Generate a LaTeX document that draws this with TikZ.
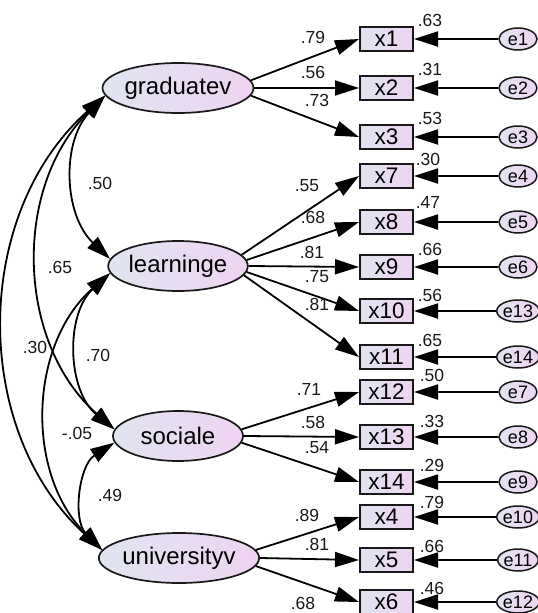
\documentclass[tikz,border=0pt]{standalone}
\usepackage{fontspec}
\setmainfont{Liberation Sans}
\usetikzlibrary{arrows.meta,shapes.geometric}
\definecolor{fillL}{RGB}{224,228,240}
\definecolor{fillR}{RGB}{238,212,242}
\definecolor{edge}{RGB}{25,25,25}
\begin{document}
\begin{tikzpicture}[x=1pt,y=-1pt,
  >={Triangle[length=24pt,width=15pt]},
  latent/.style={ellipse, draw=edge, line width=1.7pt, minimum width=130pt, minimum height=50pt, inner sep=0pt, left color=fillL, right color=fillR, font=\fontsize{24}{26}\selectfont},
  obs/.style={rectangle, draw=edge, line width=2pt, minimum width=53pt, minimum height=24pt, inner sep=0pt, left color=fillL, right color=fillR, font=\fontsize{22.5}{24}\selectfont},
  err/.style={ellipse, draw=edge, line width=1.5pt, minimum width=38pt, minimum height=22pt, inner sep=0pt, left color=fillL, right color=fillR, font=\fontsize{18}{19}\selectfont},
  num/.style={inner sep=0pt, font=\fontsize{17.5}{19}\selectfont, text=edge},
  conn/.style={line width=1.8pt, ->},
  corr/.style={line width=1.8pt, <->},
]
\useasboundingbox (0,0) rectangle (538,613);

% latent variables
\node[latent] (g) at (178,88) {graduatev};
\node[latent] (l) at (178,266) {learninge};
\node[latent] (s) at (178,436) {sociale};
\node[latent] (u) at (179,558) {universityv};

% observed variables
\foreach \n/\yy in {x1/39,x2/88,x3/137,x7/176,x8/222,x9/267,x10/311,x11/357,x12/392,x13/437,x14/482,x4/517,x5/560,x6/602}{
  \node[obs] (\n) at (386.5,\yy) {\n};
}
% errors
\foreach \e/\yy in {e1/39,e2/88,e3/137,e4/176,e5/222,e6/267,e13/311,e14/357,e7/392,e8/437,e9/482,e10/517,e11/560,e12/602}{
  \node[err] (\e) at (518,\yy) {\e};
}
\foreach \e/\n in {e1/x1,e2/x2,e3/x3,e4/x7,e5/x8,e6/x9,e13/x10,e14/x11,e7/x12,e8/x13,e9/x14,e10/x4,e11/x5,e12/x6}{
  \draw[conn] (\e) -- (\n);
}

% loadings
\draw[conn] (g.6) -- (x1.west);
\draw[conn] (g.0) -- (x2.west);
\draw[conn] (g.-6) -- (x3.west);
\draw[conn] (l.10) -- (x7.west);
\draw[conn] (l.5) -- (x8.west);
\draw[conn] (l.0) -- (x9.west);
\draw[conn] (l.-5) -- (x10.west);
\draw[conn] (l.-8) -- (x11.west);
\draw[conn] (s.6) -- (x12.west);
\draw[conn] (s.0) -- (x13.west);
\draw[conn] (s.-6) -- (x14.west);
\draw[conn] (u.6) -- (x4.west);
\draw[conn] (u.0) -- (x5.west);
\draw[conn] (u.-6) -- (x6.west);

% correlations
\draw[corr] (g.186) to[bend right=45] (l.174);
\draw[corr] (g.186) to[bend right=47] (s.174);
\draw[corr] (g.186) to[bend right=48] (u.174);
\draw[corr] (l.186) to[bend right=49] (s.174);
\draw[corr] (l.186) to[bend right=47] (u.174);
\draw[corr] (s.186) to[bend right=51] (u.174);

% loading labels
\node[num] (lx1) at (313,37) {.79};
\node[num] (lx2) at (313,72) {.56};
\node[num] (lx3) at (317,100) {.73};
\node[num] (lx7) at (307,186) {.55};
\node[num] (lx8) at (313,217) {.68};
\node[num] (lx9) at (312,252) {.81};
\node[num] (lx10) at (317,277) {.75};
\node[num] (lx11) at (317,304) {.81};
\node[num] (lx12) at (309,389) {.71};
\node[num] (lx13) at (313,422) {.58};
\node[num] (lx14) at (317,448) {.54};
\node[num] (lx4) at (307,515) {.89};
\node[num] (lx5) at (317,544) {.81};
\node[num] (lx6) at (303,603) {.68};

% R2 labels
\node[num] (r1) at (430,20) {.63};
\node[num] (r2) at (430,69) {.31};
\node[num] (r3) at (430,118) {.53};
\node[num] (r7) at (428,159) {.30};
\node[num] (r8) at (428,202) {.47};
\node[num] (r9) at (430,249) {.66};
\node[num] (r10) at (430,295) {.56};
\node[num] (r11) at (430,340) {.65};
\node[num] (r12) at (432,375) {.50};
\node[num] (r13) at (432,421) {.33};
\node[num] (r14) at (432,465) {.29};
\node[num] (r4) at (432,502) {.79};
\node[num] (r5) at (432,546) {.66};
\node[num] (r6) at (432,588) {.46};

% correlation labels
\node[num] (cgl) at (100,183) {.50};
\node[num] (cgs) at (60,267) {.65};
\node[num] (cgu) at (35,347) {.30};
\node[num] (cls) at (98,355) {.70};
\node[num] (clu) at (77,433) {-.05};
\node[num] (csu) at (110,495) {.49};
\end{tikzpicture}
\end{document}
